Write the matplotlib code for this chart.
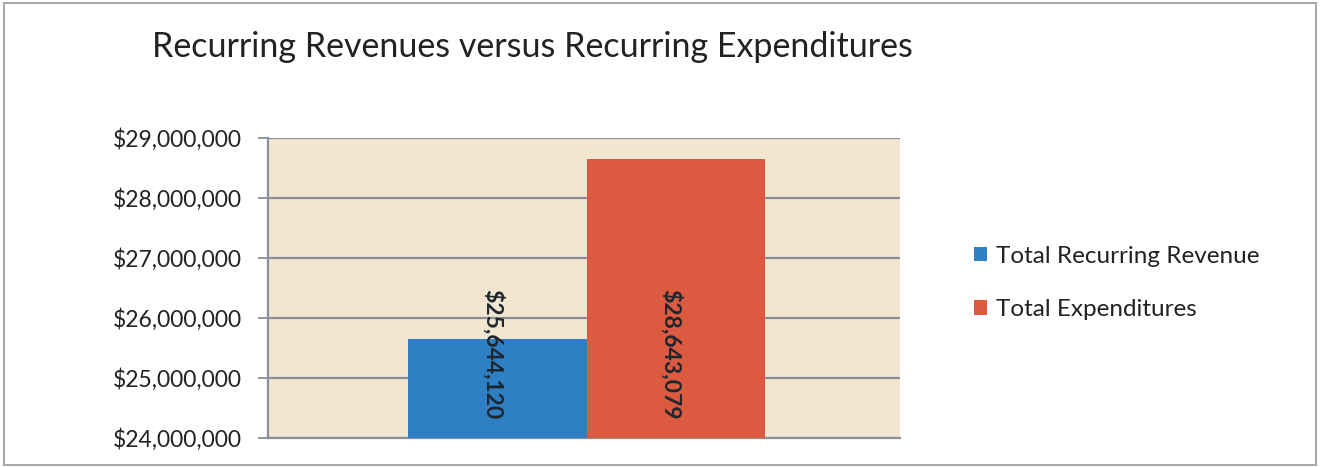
import matplotlib.pyplot as plt
from matplotlib.patches import Patch, Rectangle
from matplotlib.ticker import FuncFormatter

series = ["Total Recurring Revenue", "Total Expenditures"]
values = [25644120, 28643079]
colors = ["#2e7fc3", "#dc5a40"]
yticks = [24000000, 25000000, 26000000, 27000000, 28000000, 29000000]

plt.rcParams['font.family'] = ['Lato', 'DejaVu Sans']

fig = plt.figure(figsize=(13.21, 4.67), dpi=100)
fig.patch.set_facecolor("white")
fig.patches.append(Rectangle((0.003, 0.004), 0.993, 0.99, transform=fig.transFigure,
                             fill=False, edgecolor="#a8a8a8", linewidth=1.5))

ax = fig.add_axes([268/1321, 1 - 438/467, (900-268)/1321, (438-138)/467])
ax.set_facecolor("#f2e6d0")

width = 0.282
xs = [-width/2 + 0.004, width/2 + 0.004]
for x, v, c in zip(xs, values, colors):
    ax.bar(x, v, width=width, color=c, zorder=3)
    ax.text(x - 0.008, 25400000, "${:,}".format(v), rotation=270, ha="center",
            va="center", fontsize=16.5, fontweight="bold", color="#1e262e", zorder=4)

ax.set_xlim(-0.5, 0.5)
ax.set_ylim(yticks[0], yticks[-1])
ax.set_yticks(yticks)
ax.yaxis.set_major_formatter(FuncFormatter(lambda v, p: "${:,.0f}".format(v)))
ax.set_xticks([])
ax.grid(axis="y", color="#8a8f98", linewidth=1.6, zorder=1)
ax.tick_params(axis="y", length=7, width=1.3, color="#8a8f98", labelsize=16.5,
               labelcolor="#222222", pad=12)
for s in ["top", "right"]:
    ax.spines[s].set_visible(False)
for s in ["left", "bottom"]:
    ax.spines[s].set_color("#8a8f98")
    ax.spines[s].set_linewidth(1.6)

fig.text(152/1321, 1 - 47/467, "Recurring Revenues versus Recurring Expenditures",
         fontsize=24.5, color="#222222", ha="left", va="center")

handles = [Patch(facecolor=c, label=s) for s, c in zip(series, colors)]
fig.legend(handles=handles, loc="center left", bbox_to_anchor=(952/1321, 1 - 283/467),
           frameon=False, fontsize=17.5, handlelength=0.55, handleheight=0.55,
           handletextpad=0.35, labelspacing=1.35, labelcolor="#222222")

fig.savefig("out.png", dpi=100)
